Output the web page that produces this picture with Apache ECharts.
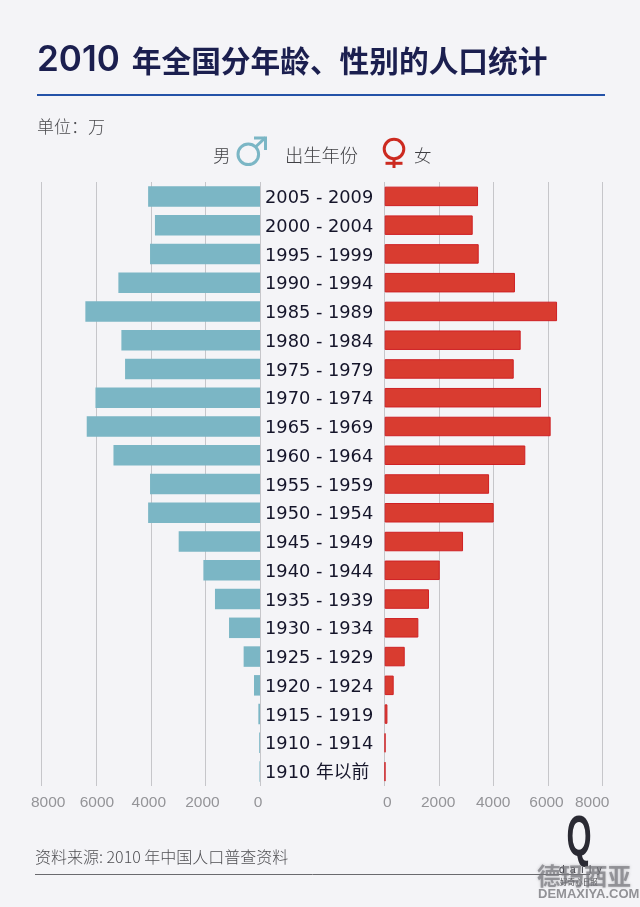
<!DOCTYPE html>
<html>
<head>
<meta charset="utf-8">
<style>
  html, body { margin: 0; padding: 0; background: #f4f4f7; }
  #chart { width: 640px; height: 907px; }
</style>
<script src="https://cdn.jsdelivr.net/npm/echarts@6/dist/echarts.min.js"></script>
</head>
<body>
<div id="chart"></div>
<script>
const birthYears = ['2005 - 2009', '2000 - 2004', '1995 - 1999', '1990 - 1994', '1985 - 1989', '1980 - 1984', '1975 - 1979', '1970 - 1974', '1965 - 1969', '1960 - 1964', '1955 - 1959', '1950 - 1954', '1945 - 1949', '1940 - 1944', '1935 - 1939', '1930 - 1934', '1925 - 1929', '1920 - 1924', '1915 - 1919', '1910 - 1914', '1910 年以前']
const male = [4100, 3850, 4030, 5190, 6400, 5080, 4945, 6030, 6350, 5370, 4030, 4100, 2980, 2075, 1650, 1135, 600, 220, 60, 30, 20]
const female = [3425, 3230, 3450, 4780, 6325, 4990, 4735, 5735, 6090, 5160, 3830, 4000, 2875, 2020, 1625, 1235, 735, 330, 100, 25, 20]

const cjk = '"Noto Sans CJK SC", sans-serif'
const latin = 'Inter, "Noto Sans CJK SC", sans-serif'
const yearFont = '"DejaVu Sans", "Noto Sans CJK SC", sans-serif'
const tickFont = '"Liberation Sans", sans-serif'

// the tick labels in the original are hand placed, not centred on the lines
const leftShift = { 0: -2, 2000: -3, 4000: -2, 6000: 0.7, 8000: 6.5 }
const rightShift = { 0: 2.5, 2000: -1, 4000: -0.5, 6000: -1.7, 8000: -10.5 }

function tickAxis(gridIndex, inverse, shifts) {
  const rich = {}
  Object.keys(shifts).forEach(k => {
    const s = shifts[k]
    rich['t' + k] = {
      fontFamily: tickFont,
      fontSize: 15.5,
      color: '#949498',
      padding: s >= 0 ? [0, 0, 0, s * 2] : [0, -s * 2, 0, 0]
    }
  })
  return {
    type: 'value',
    gridIndex,
    inverse,
    min: 0,
    max: 8000,
    interval: 2000,
    axisLine: { show: false },
    axisTick: { show: false },
    splitLine: { show: true, lineStyle: { color: '#c6c6ca', width: 1 } },
    axisLabel: {
      margin: 9,
      formatter: v => `{t${v}|${v}}`,
      rich
    }
  }
}

function text(x, y, str, size, color, extra) {
  return {
    type: 'text',
    x,
    y,
    silent: true,
    style: Object.assign({
      text: str,
      fontFamily: cjk,
      fontSize: size,
      fill: color,
      textVerticalAlign: 'middle'
    }, extra)
  }
}

function line(x1, y1, x2, y2, stroke, lineWidth) {
  return { type: 'line', silent: true, shape: { x1, y1, x2, y2 }, style: { stroke, lineWidth } }
}

const maleColor = '#7bb6c5'
const femaleColor = '#d93c30'
const femaleSign = '#cc2a20'

const option = {
  animation: false,
  backgroundColor: '#f4f4f7',
  title: {
    text: '{n|2010}{c|年全国分年龄、性别的人口统计}',
    left: 37,
    top: 43,
    padding: 0,
    textStyle: {
      rich: {
        n: { fontFamily: latin, fontSize: 35, fontWeight: 600, color: '#1b1f4f' },
        c: { fontFamily: cjk, fontSize: 29.7, fontWeight: 'bold', color: '#1b1f4f', padding: [0, 0, 0, 12] }
      }
    }
  },
  grid: [
    { left: 41.7, top: 182, width: 218.3, height: 604 },
    { left: 384.7, top: 182, width: 218, height: 604 }
  ],
  xAxis: [
    tickAxis(0, true, leftShift),
    tickAxis(1, false, rightShift)
  ],
  yAxis: [
    {
      type: 'category',
      gridIndex: 0,
      position: 'right',
      inverse: true,
      data: birthYears,
      axisLine: { show: false },
      axisTick: { show: false },
      axisLabel: {
        margin: 5,
        align: 'left',
        formatter: v => `{y|${v}}`,
        rich: {
          y: { fontFamily: yearFont, fontSize: 17.8, color: '#15152a', padding: [4, 0, 0, 0] }
        }
      }
    },
    {
      type: 'category',
      gridIndex: 1,
      inverse: true,
      data: birthYears,
      axisLine: { show: false },
      axisTick: { show: false },
      axisLabel: { show: false }
    }
  ],
  series: [
    {
      name: '男',
      type: 'bar',
      xAxisIndex: 0,
      yAxisIndex: 0,
      data: male,
      barWidth: 20.5,
      itemStyle: { color: maleColor }
    },
    {
      name: '女',
      type: 'bar',
      xAxisIndex: 1,
      yAxisIndex: 1,
      data: female,
      barWidth: 19.5,
      itemStyle: { color: femaleColor, borderColor: '#cf2024', borderWidth: 1 }
    }
  ],
  graphic: [
    line(37, 95, 605, 95, '#2452a8', 2),
    text(37, 127, '单位：万', 17, '#4a4a4e', { fontWeight: 300 }),

    text(213, 155, '男', 17.5, '#3f3f43', { fontWeight: 300 }),
    { type: 'circle', silent: true, shape: { cx: 248.3, cy: 154.3, r: 10.3 }, style: { fill: 'none', stroke: maleColor, lineWidth: 3 } },
    line(255.5, 147, 265.5, 137.5, maleColor, 3),
    { type: 'polyline', silent: true, shape: { points: [[254, 138], [265.5, 138], [265.5, 150]] }, style: { fill: 'none', stroke: maleColor, lineWidth: 3 } },
    text(285, 155, '出生年份', 18.3, '#3f3f43', { fontWeight: 300 }),
    { type: 'circle', silent: true, shape: { cx: 394, cy: 149, r: 9.8 }, style: { fill: 'none', stroke: femaleSign, lineWidth: 3 } },
    line(394, 159, 394, 168, femaleSign, 3),
    line(385.5, 163.3, 402.5, 163.3, femaleSign, 3),
    text(414, 155, '女', 17.5, '#3f3f43', { fontWeight: 300 }),

    text(35, 857, '资料来源: 2010 年中国人口普查资料', 16, '#4f4f53', { fontWeight: 300 }),
    line(35, 874.5, 590, 874.5, '#6a6a6e', 1),

    // Q logo and the site watermark over it
    {
      type: 'text',
      silent: true,
      x: 566.5,
      y: 812,
      scaleX: 0.62,
      scaleY: 1.1,
      style: { text: 'Q', fontFamily: 'Liberation Sans', fontWeight: 'bold', fontSize: 52, fill: '#2a2a33' }
    },
    text(559, 870, 'd  a  i  l  y', 10, '#2a2a33', { fontFamily: 'Liberation Sans' }),
    text(560, 882, '好奇心日报', 7.6, '#444448', {}),
    text(537, 876, '德玛西亚', 23.5, 'rgba(120,120,125,0.7)', { fontWeight: 'bold', textShadowColor: 'rgba(120,120,125,0.6)', textShadowBlur: 3 }),
    text(538, 894.5, 'DEMAXIYA.COM', 13, 'rgba(135,135,140,0.9)', { fontFamily: 'Liberation Sans', fontWeight: 'bold' })
  ]
}

const chart = echarts.init(document.getElementById('chart'))
chart.setOption(option)
</script>
</body>
</html>
